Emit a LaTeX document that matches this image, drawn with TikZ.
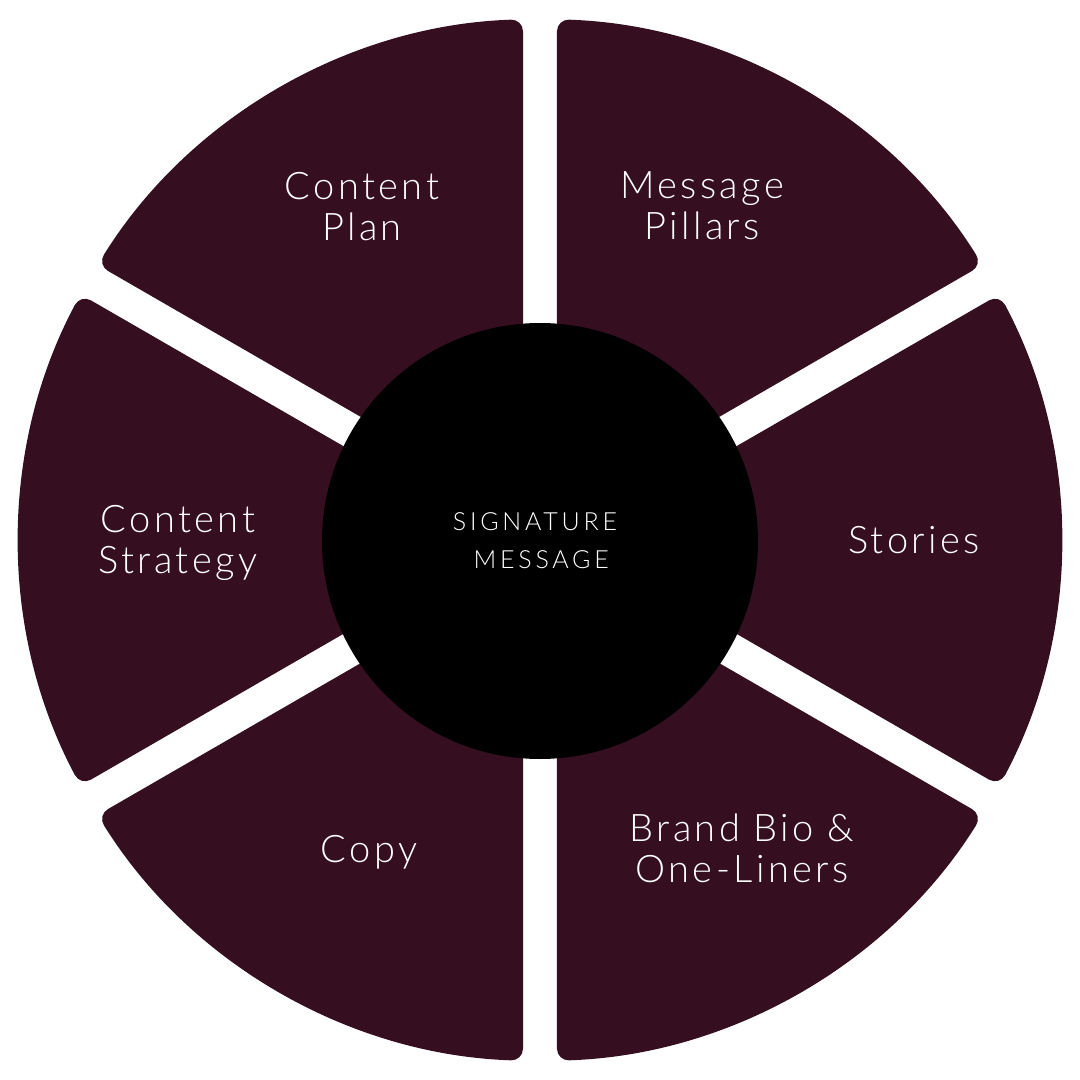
\documentclass[tikz,border=0pt]{standalone}
\usepackage{fontspec}
\setmainfont{Lato}[UprightFont=* Light]
\newfontfamily\labfont{Lato}[UprightFont=* Light, LetterSpace=9]
\newfontfamily\corefont{Lato}[UprightFont=* Light, LetterSpace=15]
\definecolor{segcol}{HTML}{350F20}
\begin{document}
\begin{tikzpicture}[x=1pt,y=1pt,
  seg/.style={fill=segcol, rounded corners=12pt},
  lab/.style={text=white, align=center, font=\labfont\fontsize{38}{41}\selectfont},
  core/.style={circle, fill=black, minimum size=436pt, inner sep=0pt, text=white, align=center, font=\corefont\fontsize{25}{38}\selectfont}]
\useasboundingbox (-540,-540) rectangle (540,540);
\foreach \c in {0,60,...,300} {
  \fill[seg] (\c:34) -- (\c-28.13:521) arc[start angle=\c-28.13, end angle=\c+28.13, radius=521] -- cycle;
}
\node[core] (centre) at (0,-1) {};
\node[text=white, align=center, font=\corefont\fontsize{25}{38}\selectfont] (coretext) at (-5,-1) {SIGNATURE\\\hspace*{0.5em}MESSAGE};
\node[lab] (stories) at (374,0) {Stories};
\node[lab] (pillars) at (162,334) {Message\\Pillars};
\node[lab] (plan) at (-178,333) {Content\\Plan};
\node[lab] (strategy) at (-362,-3) {Content\\Strategy};
\node[lab] (copy) at (-171,-312) {Copy};
\node[lab] (bio) at (202,-308) {Brand Bio \&\\One-Liners};
\end{tikzpicture}
\end{document}
